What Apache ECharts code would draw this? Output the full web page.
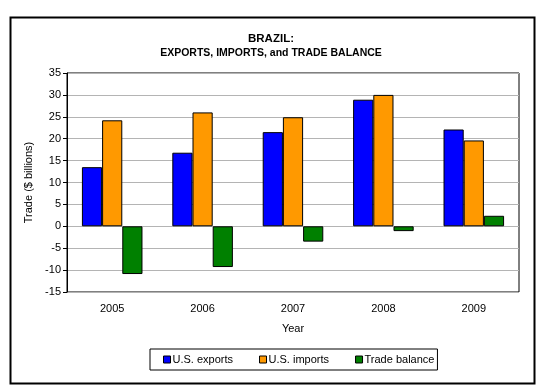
<!DOCTYPE html>
<html><head><meta charset="utf-8">
<script src="https://cdn.jsdelivr.net/npm/echarts@6/dist/echarts.min.js"></script>
<style>html,body{margin:0;padding:0;background:#fff}#c{width:537px;height:388px}</style>
</head><body><div id="c"></div>
<script>
const years = ['2005', '2006', '2007', '2008', '2009'];
const usExports = [13.5, 16.8, 21.5, 28.9, 22.1];
const usImports = [24.2, 26.0, 24.9, 30.0, 19.6];
const tradeBalance = [-10.9, -9.3, -3.5, -1.1, 2.4];

const FONT = '"Liberation Sans", Arial, sans-serif';
const chart = echarts.init(document.getElementById('c'), null, {renderer: 'canvas'});
const barStyle = c => ({color: c, borderColor: '#000', borderWidth: 1});
chart.setOption({
  animation: false,
  backgroundColor: '#fff',
  textStyle: {fontFamily: FONT},
  title: {
    text: 'BRAZIL:',
    subtext: 'EXPORTS, IMPORTS, and TRADE BALANCE',
    left: 271, textAlign: 'center', top: 33, itemGap: 3, padding: 0,
    textStyle: {fontFamily: FONT, fontSize: 11.5, fontWeight: 'bold', color: '#000'},
    subtextStyle: {fontFamily: FONT, fontSize: 10.5, fontWeight: 'bold', color: '#000'}
  },
  graphic: [{
    type: 'rect', left: 8, top: 15, z: -1,
    shape: {width: 524, height: 366},
    style: {fill: null, stroke: '#000', lineWidth: 2}
  }],
  legend: {
    left: 150, top: 349,
    padding: [5, 3, 5, 13],
    itemGap: 26, itemWidth: 7, itemHeight: 7, icon: 'rect',
    borderColor: '#000', borderWidth: 1,
    itemStyle: {borderColor: '#000', borderWidth: 1},
    textStyle: {fontFamily: FONT, fontSize: 11, color: '#000', padding: [0, 0, 0, -3]}
  },
  grid: {left: 67, right: 18, top: 73, bottom: 96, show: true, borderColor: '#000', borderWidth: 1},
  xAxis: {
    type: 'category', data: years,
    name: 'Year', nameLocation: 'middle', nameGap: 31,
    nameTextStyle: {fontFamily: FONT, fontSize: 11, color: '#000'},
    axisLine: {show: false}, axisTick: {show: false},
    axisLabel: {fontFamily: FONT, fontSize: 11, color: '#000', margin: 11}
  },
  yAxis: {
    type: 'value', min: -15, max: 35, interval: 5,
    name: 'Trade ($ billions)', nameLocation: 'middle', nameGap: 28, nameRotate: 90,
    nameTextStyle: {fontFamily: FONT, fontSize: 11, color: '#000'},
    axisLine: {show: true, lineStyle: {color: '#000'}},
    axisTick: {show: true, inside: false, length: 4, lineStyle: {color: '#000'}},
    axisLabel: {fontFamily: FONT, fontSize: 11, color: '#000', margin: 6},
    splitLine: {show: true, lineStyle: {color: '#b4b4b4', width: 1}}
  },
  series: [
    {name: 'U.S. exports', type: 'bar', data: usExports, itemStyle: barStyle('#0000ff'), barGap: '0%', barCategoryGap: '33%'},
    {name: 'U.S. imports', type: 'bar', data: usImports, itemStyle: barStyle('#ff9900'), barGap: '0%', barCategoryGap: '33%'},
    {name: 'Trade balance', type: 'bar', data: tradeBalance, itemStyle: barStyle('#008000'), barGap: '0%', barCategoryGap: '33%'}
  ]
});
</script></body></html>
